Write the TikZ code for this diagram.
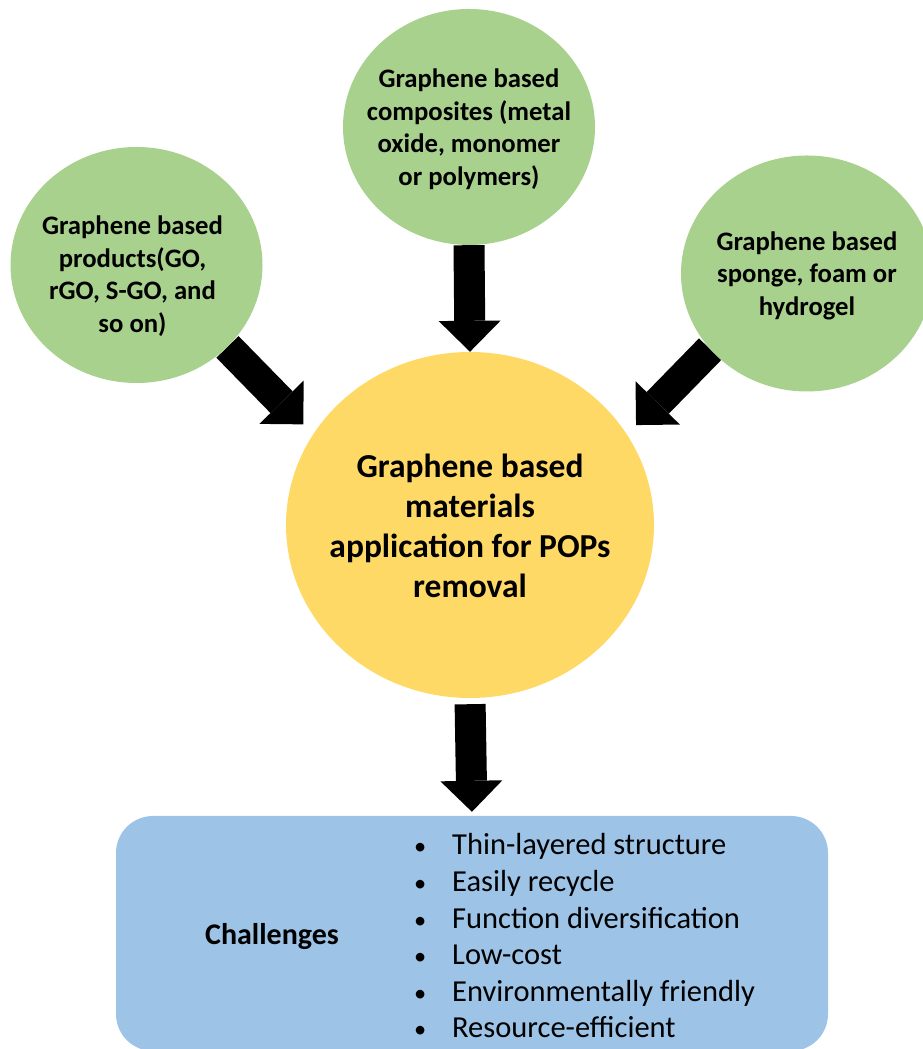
\documentclass[tikz,border=0pt]{standalone}
\usepackage{fontspec}
\setmainfont{Carlito}
\usetikzlibrary{shapes.geometric,arrows.meta,backgrounds}

\definecolor{bubblegreen}{HTML}{A9D18E}
\definecolor{coreyellow}{HTML}{FFD966}
\definecolor{boxblue}{HTML}{9DC3E6}

\newcommand{\chitem}{\makebox[38pt][l]{\scalebox{0.8}{\textbullet}}}

\tikzset{
  bubble/.style={ellipse, fill=bubblegreen, minimum width=252pt, minimum height=236pt, inner sep=0pt},
  bubbletext/.style={align=center, inner sep=0pt, font=\fontsize{26.7}{32.5}\selectfont\bfseries},
  fat arrow/.style={line width=31pt, -{Triangle[length=31pt,width=62pt,line width=0pt]}},
}

\begin{document}
\begin{tikzpicture}[x=1pt,y=1pt]
  \useasboundingbox (0,0) rectangle (922,1049);
  % sources
  \node[bubble] (comp) at (469,922) {};
  \node[bubbletext] (comptext) at ([yshift=-2pt]comp.center) {Graphene based\\composites (metal\\oxide, monomer\\or polymers)};
  \node[bubble] (prod) at (136.5,784) {};
  \node[bubbletext] (prodtext) at ([xshift=-4pt,yshift=-11pt]prod.center) {Graphene based\\products(GO,\\rGO, S-GO, and\\so on)};
  \node[bubble] (sponge) at (807,775.5) {};
  \node[bubbletext] (spongetext) at ([yshift=-2pt]sponge.center) {Graphene based\\sponge, foam or\\hydrogel};
  % application
  \node[ellipse, fill=coreyellow, minimum width=368pt, minimum height=346pt, inner sep=0pt] (app) at (470,524) {};
  \node[align=center, inner sep=0pt, font=\fontsize{33.5}{40}\selectfont\bfseries] (apptext) at ([yshift=-1pt]app.center) {Graphene based\\materials\\application for POPs\\removal};
  % challenges box
  \node[rounded corners=37pt, fill=boxblue, minimum width=712pt, minimum height=235pt] (chal) at (472,115.5) {};
  \node[inner sep=0pt, font=\fontsize{30}{36}\selectfont\bfseries] (chaltitle) at (272,112) {Challenges};
  \node[anchor=west, align=left, inner sep=0pt, font=\fontsize{30.5}{36.6}\selectfont] (challist) at (414,113) {%
    \chitem Thin-layered structure\\
    \chitem Easily recycle\\
    \chitem Function diversification\\
    \chitem Low-cost\\
    \chitem Environmentally friendly\\
    \chitem Resource-efficient};
  % arrows
  \begin{scope}[on background layer]
    \draw[fat arrow] (comp.south) -- (app.north);
    \draw[fat arrow, shorten >=14pt] (prod.-42) -- (app.150);
    \draw[fat arrow, shorten >=13pt] (sponge.-142) -- (app.30);
    \draw[fat arrow, shorten <=6pt, shorten >=4pt] (app.south) -- (chal.north);
  \end{scope}
\end{tikzpicture}
\end{document}
